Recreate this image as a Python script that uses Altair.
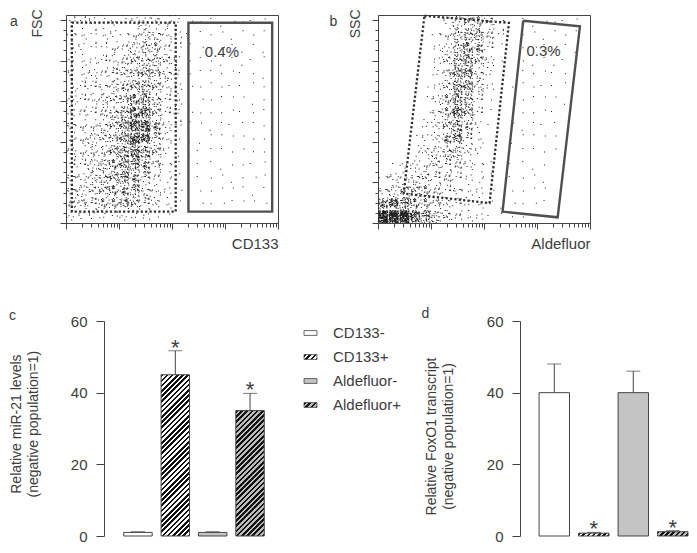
import math
import altair as alt
import pandas as pd

# ----------------------------------------------------------------- data
# Flow-cytometry panels: dot density on a 20 x 16 grid.
# x: 0..4 log decades (0.2 decade per column); y: channel 0..1024 (64 per row),
# rows listed from the top (high channel) to the bottom.  0 = empty ... 10 = solid.
DECADES = 4
CHANNELS = 1024

A_DENSITY = [
    [2, 2, 2, 2, 2, 2, 3, 3, 3, 3, 2, 1, 1, 1, 1, 1, 1, 1, 1, 0],
    [2, 2, 2, 2, 2, 2, 3, 4, 4, 3, 2, 1, 1, 1, 1, 1, 1, 1, 1, 0],
    [2, 2, 2, 2, 3, 3, 4, 5, 5, 3, 2, 1, 1, 1, 1, 1, 1, 1, 1, 0],
    [2, 2, 2, 3, 3, 4, 5, 5, 5, 4, 2, 1, 1, 1, 1, 1, 1, 1, 1, 0],
    [2, 2, 3, 3, 4, 4, 5, 6, 5, 4, 2, 1, 1, 1, 1, 1, 1, 1, 1, 0],
    [2, 3, 3, 3, 4, 5, 6, 6, 5, 3, 2, 1, 1, 1, 1, 1, 1, 1, 1, 0],
    [3, 3, 3, 4, 4, 5, 7, 7, 5, 3, 2, 1, 1, 1, 1, 1, 1, 1, 1, 0],
    [3, 3, 3, 4, 5, 6, 8, 8, 5, 3, 2, 1, 1, 1, 1, 1, 1, 1, 1, 0],
    [3, 3, 3, 4, 5, 7, 9, 9, 6, 3, 2, 1, 1, 1, 1, 1, 1, 1, 1, 0],
    [3, 3, 4, 4, 5, 7, 9, 8, 5, 3, 1, 1, 1, 1, 1, 1, 1, 1, 1, 0],
    [3, 3, 4, 4, 6, 7, 8, 7, 5, 2, 1, 1, 1, 1, 1, 1, 1, 1, 1, 0],
    [3, 3, 4, 5, 6, 7, 7, 6, 4, 2, 1, 0, 1, 1, 1, 1, 1, 1, 1, 0],
    [3, 3, 4, 5, 6, 7, 6, 5, 3, 2, 1, 0, 1, 1, 1, 1, 1, 1, 1, 0],
    [3, 4, 4, 5, 6, 6, 6, 4, 3, 2, 1, 0, 1, 1, 1, 1, 1, 1, 1, 0],
    [4, 4, 4, 5, 5, 6, 5, 4, 3, 2, 1, 0, 1, 1, 1, 1, 1, 1, 1, 0],
    [2, 2, 2, 2, 2, 2, 2, 2, 1, 1, 0, 0, 0, 0, 0, 0, 0, 0, 0, 0],
]

B_DENSITY = [
    [0, 0, 0, 0, 0, 0, 2, 4, 5, 5, 4, 2, 0, 1, 1, 1, 1, 1, 1, 0],
    [0, 0, 0, 0, 0, 2, 3, 5, 6, 6, 4, 2, 0, 1, 1, 1, 1, 1, 1, 0],
    [0, 0, 0, 0, 0, 2, 3, 5, 7, 6, 3, 1, 0, 1, 1, 1, 1, 1, 1, 0],
    [0, 0, 0, 0, 0, 2, 4, 6, 7, 5, 3, 1, 0, 1, 1, 1, 1, 1, 0, 0],
    [0, 0, 0, 0, 0, 2, 4, 7, 7, 4, 2, 0, 0, 1, 1, 1, 1, 1, 0, 0],
    [0, 0, 0, 0, 1, 2, 4, 7, 7, 4, 2, 0, 1, 1, 1, 1, 1, 1, 0, 0],
    [0, 0, 0, 0, 1, 3, 5, 7, 6, 3, 1, 0, 1, 1, 1, 1, 1, 1, 0, 0],
    [0, 0, 0, 0, 1, 3, 5, 8, 6, 3, 1, 0, 1, 1, 1, 1, 1, 0, 0, 0],
    [0, 0, 0, 0, 2, 3, 5, 7, 5, 2, 1, 0, 1, 1, 1, 1, 1, 0, 0, 0],
    [0, 0, 0, 1, 2, 3, 6, 7, 4, 2, 0, 0, 1, 1, 1, 1, 1, 0, 0, 0],
    [0, 0, 0, 2, 3, 4, 5, 5, 3, 2, 0, 0, 1, 1, 1, 1, 1, 0, 0, 0],
    [0, 1, 2, 3, 3, 4, 4, 4, 3, 2, 1, 0, 1, 1, 1, 1, 0, 0, 0, 0],
    [2, 3, 3, 4, 4, 4, 4, 3, 2, 2, 1, 0, 1, 1, 1, 1, 0, 0, 0, 0],
    [3, 4, 5, 5, 5, 4, 3, 3, 2, 2, 1, 0, 1, 1, 1, 1, 0, 0, 0, 0],
    [7, 8, 7, 6, 5, 4, 3, 3, 2, 2, 1, 1, 1, 1, 1, 1, 0, 0, 0, 0],
    [10, 10, 10, 9, 7, 5, 4, 3, 2, 2, 1, 1, 1, 1, 0, 0, 0, 0, 0, 0],
]

# gates (x in log decades, y in channels)
A_NEG_GATE_X = [0.11, 2.07]
A_NEG_GATE_Y = [56, 986]
A_POS_GATE_X = [2.31, 3.89]
A_POS_GATE_Y = [56, 986]
A_POS_LABEL = "0.4%"
A_POS_LABEL_X = 2.62
A_POS_LABEL_Y = 841

B_NEG_GATE_X = [0.876, 2.47, 2.105, 0.485]
B_NEG_GATE_Y = [1020, 985, 98, 145]
B_POS_GATE_X = [2.74, 3.81, 3.39, 2.35]
B_POS_GATE_Y = [996, 968, 28, 56]
B_POS_LABEL = "0.3%"
B_POS_LABEL_X = 2.80
B_POS_LABEL_Y = 848

# bar panels
GROUPS = ["CD133-", "CD133+", "Aldefluor-", "Aldefluor+"]
MIR21_MEAN = [1.0, 45.0, 1.0, 35.0]
MIR21_ERR = [0.2, 6.7, 0.2, 4.8]
MIR21_SIG = ["", "*", "", "*"]
FOXO1_MEAN = [40.0, 0.8, 40.0, 1.2]
FOXO1_ERR = [8.0, 0.2, 6.0, 0.3]
FOXO1_SIG = ["", "*", "", "*"]
BAR_TICKS = [0, 20, 40, 60]
BAR_MAX = 60

# ----------------------------------------------------------------- style
FONT = "Liberation Sans"
INK = "#3d3d3d"
LINE = "#444444"
DOT = "#1e1e1e"
GREY_FILL = "#c4c4c4"
GREY_HATCH = "#bcbcbc"
HATCH_INK = "#111111"
KINDS = ["plain_white", "hatch_white", "plain_grey", "hatch_grey"]

SC_W, SC_H = 212, 208
NCOL, NROW = 20, 16
CELL_W = SC_W / NCOL
CELL_H = SC_H / NROW
LEVEL_DOTS = [0, 1, 4, 8, 14, 22, 33, 48, 70, 100, 220]
DOT_PX = 1.0
N_VARIANTS = 8

BAR_H = 215
C_EXT = 38            # empty strip left of panel c's axis (keeps rows aligned)
C_W, C_PI, C_PO = 180, 0.2386, 0.528
D_W, D_PI, D_PO = 168, 0.23, 0.2415
LEG_W, LEG_H = 98, 96


def _noise(k):
    v = math.sin(k * 12.9898 + 4.1414) * 43758.5453
    return v - math.floor(v)


def speckle_path(n_dots, variant):
    """Fine dot texture used as the symbol shape of one density cell."""
    half = CELL_W / 2.0
    asp = CELL_H / CELL_W
    d = DOT_PX / half
    parts = []
    for i in range(n_dots):
        k = variant * 997 + i * 2 + 1
        u = _noise(k)
        v = _noise(k + 0.5)
        x = -1 + u * (2 - d)
        y = -asp + v * (2 * asp - d)
        parts.append(f"M{x:.3f},{y:.3f}h{d:.3f}v{d:.3f}h{-d:.3f}z")
    return "".join(parts)


SHAPE_KEYS, SHAPE_PATHS = [], []
for lev in range(1, len(LEVEL_DOTS)):
    for var in range(N_VARIANTS):
        SHAPE_KEYS.append(f"L{lev}v{var}")
        SHAPE_PATHS.append(speckle_path(LEVEL_DOTS[lev], var))


def hatch(w, h, base, period=5.2, ink_frac=0.5):
    """45-degree stripes as a linear gradient in the bar's own box."""
    span = w + h
    lam = w * span / (w * w + h * h)
    T = period / span
    stops = []
    k = 0
    while k * T < 1:
        a = k * T
        b = min(a + T * ink_frac, 1.0)
        c = min((k + 1) * T, 1.0)
        stops += [
            alt.GradientStop(offset=round(a, 5), color=HATCH_INK),
            alt.GradientStop(offset=round(b, 5), color=HATCH_INK),
            alt.GradientStop(offset=round(b, 5), color=base),
            alt.GradientStop(offset=round(c, 5), color=base),
        ]
        k += 1
    return alt.LinearGradient(gradient="linear", stops=stops, x1=0, y1=0,
                              x2=round(lam, 5), y2=round(lam * h / w, 5))


def fill_for(kind, w, h):
    if kind == "plain_white":
        return "white"
    if kind == "plain_grey":
        return GREY_FILL
    if kind == "hatch_white":
        return hatch(w, max(h, 0.5), "white")
    return hatch(w, max(h, 0.5), GREY_HATCH)


def letter_layer(letter, dx, dy):
    return alt.Chart(pd.DataFrame({"t": [letter]})).mark_text(
        fontSize=14, color=INK, align="center", baseline="middle"
    ).encode(x=alt.value(dx), y=alt.value(dy), text="t:N")


# ----------------------------------------------------------------- scatter panels
X_LOG_TICKS = [d + math.log10(k) for d in range(DECADES) for k in range(1, 10)] + [DECADES]
Y_CH_TICKS = list(range(0, 1001, 50))


def scatter_panel(grid, gate_layers, label, label_x, label_y, xtitle, ytitle,
                  ytitle_x, letter, letter_dx):
    rows = []
    for r, row in enumerate(grid):
        for c, lev in enumerate(row):
            if lev > 0:
                rows.append({
                    "x": (c + 0.5) * DECADES / NCOL,
                    "y": CHANNELS - (r + 0.5) * CHANNELS / NROW,
                    "pat": f"L{lev}v{int(_noise(r * 31 + c * 7 + 0.25) * N_VARIANTS)}",
                })
    cells = pd.DataFrame(rows)

    x_axis = alt.Axis(
        values=X_LOG_TICKS, labels=False, grid=False,
        tickSize={"condition": {"test": "abs(datum.value - round(datum.value)) < 0.000001",
                                "value": 6}, "value": 4},
        title=xtitle, titleFontSize=15, titleFontWeight="normal", titleColor=INK,
        titleX=SC_W, titleY=20, titleAlign="right", titleBaseline="middle", titleAngle=0,
    )
    y_axis = alt.Axis(
        values=Y_CH_TICKS, labels=False, grid=False,
        tickSize={"condition": {"test": "datum.value % 200 === 0", "value": 6}, "value": 3},
        title=ytitle, titleFontSize=14, titleFontWeight="normal", titleColor=INK,
        titleX=ytitle_x, titleY=-6, titleAlign="right", titleBaseline="middle", titleAngle=-90,
    )
    xenc = alt.X("x:Q", scale=alt.Scale(domain=[0, DECADES], nice=False, zero=False), axis=x_axis)
    yenc = alt.Y("y:Q", scale=alt.Scale(domain=[0, CHANNELS], nice=False, zero=False), axis=y_axis)

    dots = alt.Chart(cells).mark_point(
        filled=True, size=CELL_W * CELL_W, opacity=1, color=DOT, strokeWidth=0
    ).encode(
        x=xenc, y=yenc,
        shape=alt.Shape("pat:N", scale=alt.Scale(domain=SHAPE_KEYS, range=SHAPE_PATHS), legend=None),
    )
    gates = [g(xenc, yenc) for g in gate_layers]
    txt = alt.Chart(pd.DataFrame({"x": [label_x], "y": [label_y], "t": [label]})).mark_text(
        align="left", baseline="middle", fontSize=15, color=INK
    ).encode(x=xenc, y=yenc, text="t:N")
    return alt.layer(dots, *gates, txt, letter_layer(letter, letter_dx, 6.5)).properties(
        width=SC_W, height=SC_H, view=alt.ViewBackground(stroke=LINE, strokeWidth=1)
    )


def rect_gate(xs, ys, dash):
    def make(xenc, yenc):
        df = pd.DataFrame({"x": [xs[0]], "x2": [xs[1]], "y": [ys[0]], "y2": [ys[1]]})
        kw = dict(fill="white", fillOpacity=0, stroke="#2e2e2e" if dash else "#505050",
                  strokeWidth=2.3 if dash else 2.4)
        if dash:
            kw["strokeDash"] = [2.2, 2.2]
        return alt.Chart(df).mark_rect(**kw).encode(x=xenc, x2="x2:Q", y=yenc, y2="y2:Q")
    return make


def poly_gate(xs, ys, dash):
    def make(xenc, yenc):
        df = pd.DataFrame({"x": xs + xs[:1], "y": ys + ys[:1], "o": list(range(len(xs) + 1))})
        kw = dict(color="#2e2e2e" if dash else "#505050", strokeWidth=2.3 if dash else 2.4,
                  strokeJoin="miter")
        if dash:
            kw["strokeDash"] = [2.2, 2.2]
        return alt.Chart(df).mark_line(**kw).encode(x=xenc, y=yenc, order="o:Q")
    return make


panel_a = scatter_panel(
    A_DENSITY,
    [rect_gate(A_NEG_GATE_X, A_NEG_GATE_Y, True), rect_gate(A_POS_GATE_X, A_POS_GATE_Y, False)],
    A_POS_LABEL, A_POS_LABEL_X, A_POS_LABEL_Y, "CD133", "FSC", -28.6, "a", -52,
)
panel_b = scatter_panel(
    B_DENSITY,
    [poly_gate(B_NEG_GATE_X, B_NEG_GATE_Y, True), poly_gate(B_POS_GATE_X, B_POS_GATE_Y, False)],
    B_POS_LABEL, B_POS_LABEL_X, B_POS_LABEL_Y, "Aldefluor", "SSC", -23, "b", -44.6,
)


# ----------------------------------------------------------------- bar panels
def bar_panel(means, errs, sig, width, p_in, p_out, align, ext, title, title_x, title_y,
              letter, letter_dx, letter_dy):
    n = len(GROUPS)
    step = width / (n - p_in + 2 * p_out)
    bw = step * (1 - p_in)
    df = pd.DataFrame({
        "group": GROUPS, "mean": means,
        "top": [m + e for m, e in zip(means, errs)], "sig": sig,
    })
    xenc = alt.X("group:N", sort=GROUPS, axis=None,
                 scale=alt.Scale(domain=GROUPS, paddingInner=p_in, paddingOuter=p_out,
                                 align=align, range=[ext, ext + width]))
    yscale = alt.Scale(domain=[0, BAR_MAX], nice=False)
    yaxis = alt.Axis(
        values=BAR_TICKS, grid=False, tickSize=8, labelPadding=9, labelFontSize=15,
        labelColor=INK, labelFlush=False, offset=-ext,
        title=title, titleFontSize=14, titleFontWeight="normal", titleColor=INK,
        titleX=title_x, titleY=title_y, titleAlign="center", titleBaseline="middle",
        titleAngle=-90, titleLineHeight=17,
    )
    layers = []
    for g, m, kind in zip(GROUPS, means, KINDS):
        h = m / BAR_MAX * BAR_H
        layers.append(
            alt.Chart(df).transform_filter(alt.datum.group == g).mark_bar(
                fill=fill_for(kind, bw, h), stroke=LINE, strokeWidth=1
            ).encode(x=xenc, y=alt.Y("mean:Q", scale=yscale, axis=yaxis))
        )
    err = alt.Chart(df).mark_rule(color=LINE, strokeWidth=1).encode(
        x=xenc, y=alt.Y("mean:Q", scale=yscale, axis=yaxis), y2="top:Q")
    cap = alt.Chart(df).mark_tick(color=LINE, thickness=1, size=14).encode(
        x=xenc, y=alt.Y("top:Q", scale=yscale, axis=yaxis))
    stars = alt.Chart(df).mark_text(fontSize=22, baseline="alphabetic", dy=4, color=INK).encode(
        x=xenc, y=alt.Y("top:Q", scale=yscale, axis=yaxis), text="sig:N")
    return alt.layer(*layers, err, cap, stars,
                     letter_layer(letter, letter_dx + ext, letter_dy)).properties(
        width=ext + width, height=BAR_H
    )


panel_c = bar_panel(MIR21_MEAN, MIR21_ERR, MIR21_SIG, C_W, C_PI, C_PO, 0.5, C_EXT,
                    ["Relative miR-21 levels", "(negative population=1)"], -88, 102.6,
                    "c", -91.6, -5.3)
panel_d = bar_panel(FOXO1_MEAN, FOXO1_ERR, FOXO1_SIG, D_W, D_PI, D_PO, 1, 0,
                    ["Relative FoxO1 transcript", "(negative population=1)"], -89, 115,
                    "d", -94.6, -7.2)

# ----------------------------------------------------------------- legend
leg_df = pd.DataFrame({"group": GROUPS})
leg_y = alt.Y("group:N", sort=GROUPS, axis=None,
              scale=alt.Scale(domain=GROUPS, paddingInner=0.8, paddingOuter=0.4))
SYM_W = 13
sym_h = LEG_H / (len(GROUPS) - 0.8 + 0.8) * 0.2
leg_layers = []
for g, kind in zip(GROUPS, KINDS):
    leg_layers.append(
        alt.Chart(leg_df).transform_filter(alt.datum.group == g).mark_rect(
            fill=fill_for(kind, SYM_W, sym_h), stroke=LINE, strokeWidth=0.8
        ).encode(y=leg_y, x=alt.value(0), x2=alt.value(SYM_W))
    )
leg_text = alt.Chart(leg_df).mark_text(align="left", baseline="middle", fontSize=15, color=INK).encode(
    y=leg_y, x=alt.value(29), text="group:N")
legend = alt.layer(*leg_layers, leg_text).properties(width=LEG_W, height=LEG_H)

# ----------------------------------------------------------------- layout
row1 = alt.hconcat(panel_a, panel_b, spacing=50)
row2 = alt.hconcat(panel_c, legend, panel_d, spacing=18)
chart = alt.vconcat(row1, row2, spacing=54).properties(padding=0).configure(
    font=FONT
).configure_view(stroke="transparent").configure_axis(
    labelFont=FONT, titleFont=FONT, domainColor=LINE, tickColor=LINE, labelColor=INK,
    titleColor=INK, grid=False,
)

chart.save("out.html", embed_options={"renderer": "svg", "actions": False})
